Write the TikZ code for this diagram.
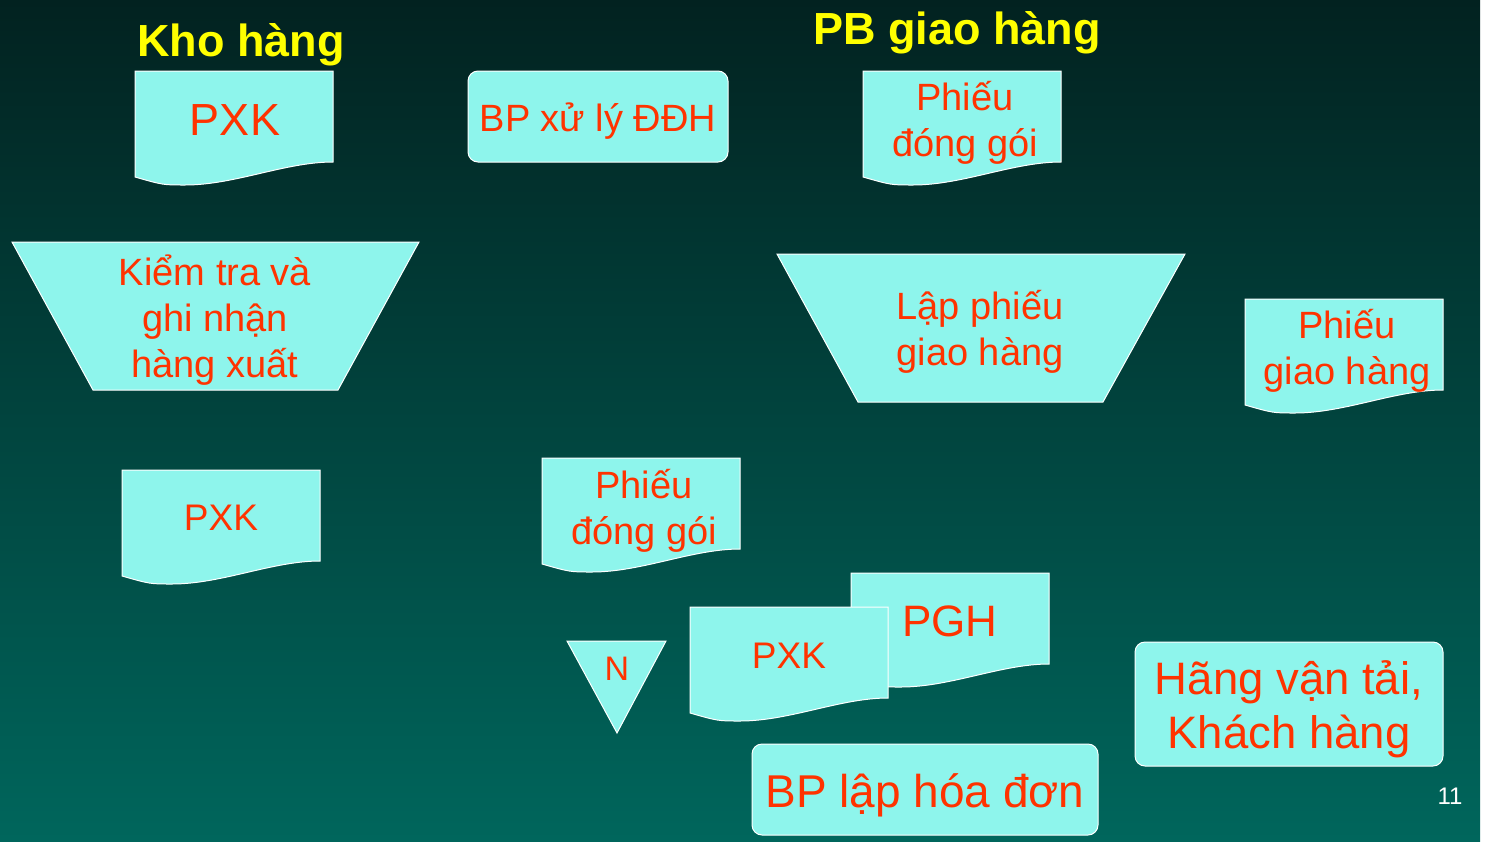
\documentclass[tikz,border=0pt]{standalone}
\usepackage{fontspec}
\setmainfont{Liberation Sans}
\definecolor{bgtop}{RGB}{2,34,32}
\definecolor{bgbot}{RGB}{0,102,92}
\definecolor{boxc}{RGB}{142,245,236}
\definecolor{txtc}{RGB}{255,51,0}
\definecolor{ttl}{RGB}{255,255,0}
\newcommand\docshape[2]{%
  \draw[box] (#1,#2) -- (#1+198,#2) -- (#1+198,#2+91)
    .. controls (#1+150,#2+91) and (#1+100,#2+114) .. (#1+50,#2+114)
    .. controls (#1+28,#2+114) .. (#1,#2+106) -- cycle;}
\begin{document}
\begin{tikzpicture}[x=1pt,y=-1pt,
  box/.style={fill=boxc,draw=white,line width=1pt},
  rbox/.style={box,rounded corners=10pt,inner sep=0pt},
  lbl/.style={text=txtc,align=center,inner sep=0pt},
  fA/.style={font=\fontsize{38}{46}\selectfont},
  fB/.style={font=\fontsize{45}{54}\selectfont},
  fC/.style={font=\fontsize{37}{44}\selectfont},
  title/.style={text=ttl,inner sep=0pt,anchor=base,font=\fontsize{45}{54}\selectfont\bfseries}]
\useasboundingbox (0,0) rectangle (1488,841);
\fill[white] (0,0) rectangle (1488,841);
\shade[top color=bgtop,bottom color=bgbot] (0,0) rectangle (1480,841);
% titles
\node[title] (kho) at (241,56) {Kho hàng};
\node[title] (pbg) at (957,44) {PB giao hàng};
% top row
\docshape{135}{71}
\node[lbl,fB] (pxk1) at (235,120) {PXK};
\node[rbox,minimum width=260,minimum height=91] (bpx) at (598,116.5) {};
\node[lbl,fA,anchor=base] (bpxt) at (598,131.5) {BP xử lý ĐĐH};
\docshape{863}{71}
\node[lbl,fA] (pdg1) at (965,123) {Phiếu\\đóng gói};
% trapezoids
\draw[box] (12,242) -- (419,242) -- (338,390) -- (93,390) -- cycle;
\node[lbl,fA] (kt) at (215,320) {Kiểm tra và\\ghi nhận\\hàng xuất};
\draw[box] (777,254) -- (1185,254) -- (1103,402) -- (858,402) -- cycle;
\node[lbl,fA] (lp) at (980,332) {Lập phiếu\\giao hàng};
\docshape{1245}{299}
\node[lbl,fA] (pgh1) at (1347,351) {Phiếu\\giao hàng};
% middle
\docshape{122}{470}
\node[lbl,fC] (pxk2) at (221,518) {PXK};
\docshape{542}{458}
\node[lbl,fA] (pdg2) at (644,511) {Phiếu\\đóng gói};
% bottom
\docshape{851}{573}
\node[lbl,font=\fontsize{44}{52}\selectfont] (pgh2) at (950,621) {PGH};
\docshape{690}{607}
\node[lbl,fC] (pxk3) at (789,656) {PXK};
\draw[box] (567,641) -- (666,641) -- (617,733) -- cycle;
\node[lbl,font=\fontsize{34}{40}\selectfont] (nn) at (617,669) {N};
\node[rbox,minimum width=346,minimum height=91] (bpl) at (925,789.5) {};
\node[lbl,font=\fontsize{46}{54}\selectfont,anchor=base] (bplt) at (925,807.5) {BP lập hóa đơn};
\node[rbox,minimum width=308,minimum height=124] (hvt) at (1289,704) {};
\node[lbl,font=\fontsize{45.5}{54}\selectfont] (hvtt) at (1289,709) {Hãng vận tải,\\Khách hàng};
\node[text=white,inner sep=0pt,font=\fontsize{24}{28}\selectfont] (pg) at (1450,796) {11};
\end{tikzpicture}
\end{document}
